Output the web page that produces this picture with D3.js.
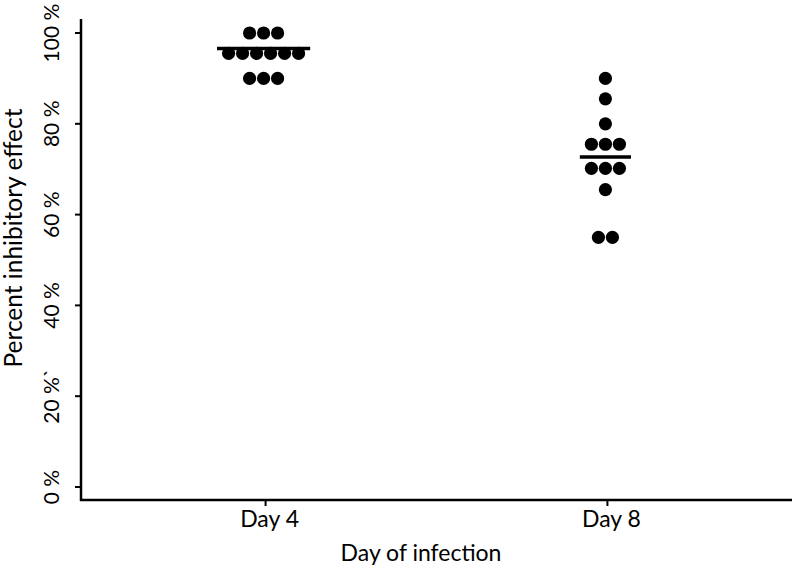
<!DOCTYPE html>
<html><head><meta charset="utf-8">
<script src="https://cdn.jsdelivr.net/npm/d3@7/dist/d3.min.js"></script>
<style>body{margin:0;background:#fff}svg{display:block}text{font-family:Lato,"Open Sans",sans-serif;fill:#000}</style>
</head><body>
<script>
const categories = ["Day 4", "Day 8"];
const day4Values = [100, 100, 100, 95.5, 95.5, 95.5, 95.5, 95.5, 95.5, 90, 90, 90];
const day8Values = [90, 85.5, 80, 75.5, 75.5, 75.5, 70.2, 70.2, 70.2, 65.5, 55, 55];
const centerLines = [96.6, 72.7];
const yTicks = [0, 20, 40, 60, 80, 100];
const yTickLabels = ["0 %", "20 %`", "40 %", "60 %", "80 %", "100 %"];

const W = 792, H = 571;
const svg = d3.select("body").append("svg").attr("width", W).attr("height", H);
const x = d3.scalePoint().domain(categories).range([81, 792]).padding(0.54);
const y = d3.scaleLinear().domain([0, 100]).range([487, 33]);

// axes
svg.append("line").attr("x1", 81).attr("x2", 81).attr("y1", 19).attr("y2", 501).attr("stroke", "#000").attr("stroke-width", 2.5);
svg.append("line").attr("x1", 80).attr("x2", 792).attr("y1", 500).attr("y2", 500).attr("stroke", "#000").attr("stroke-width", 2.5);

yTicks.forEach((t, i) => {
  svg.append("line").attr("x1", 75).attr("x2", 81).attr("y1", y(t)).attr("y2", y(t)).attr("stroke", "#000").attr("stroke-width", 2);
  svg.append("text").attr("transform", `translate(59,${y(t)}) rotate(-90)`)
    .attr("text-anchor", "middle").attr("font-size", 21).text(yTickLabels[i]);
});
categories.forEach(c => {
  svg.append("line").attr("x1", x(c)).attr("x2", x(c)).attr("y1", 500).attr("y2", 506).attr("stroke", "#000").attr("stroke-width", 2);
  svg.append("text").attr("x", x(c) + 4).attr("y", 527).attr("text-anchor", "middle").attr("font-size", 23).text(c);
});
svg.append("text").attr("x", 421).attr("y", 561).attr("text-anchor", "middle").attr("font-size", 23).text("Day of infection");
svg.append("text").attr("transform", "translate(22,238) rotate(-90)").attr("text-anchor", "middle").attr("font-size", 24.5).text("Percent inhibitory effect");

const series = [day4Values, day8Values];
const step = 14, r = 6.6;
series.forEach((vals, si) => {
  const cx = x(categories[si]) - 2;
  const groups = d3.groups(vals, v => v);
  let maxN = 1;
  groups.forEach(([v, arr]) => {
    maxN = Math.max(maxN, arr.length);
    arr.forEach((_, i) => {
      svg.append("circle").attr("cx", cx + (i - (arr.length - 1) / 2) * step).attr("cy", y(v)).attr("r", r).attr("fill", "#000");
    });
  });
  const half = (maxN - 1) / 2 * step + r + 5;
  svg.append("line").attr("x1", cx - half).attr("x2", cx + half)
    .attr("y1", y(centerLines[si])).attr("y2", y(centerLines[si])).attr("stroke", "#000").attr("stroke-width", 3.5);
});
</script>
</body></html>
